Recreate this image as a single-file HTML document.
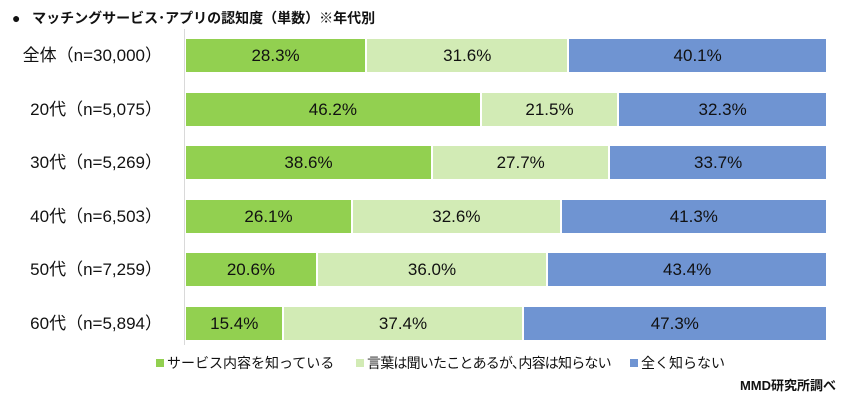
<!DOCTYPE html><html><head><meta charset="utf-8"><style>
body{margin:0;width:848px;height:400px;background:#fff;font-family:"Liberation Sans","Noto Sans CJK JP",sans-serif;position:relative;overflow:hidden;color:#111}
.t{position:absolute;left:12px;top:8px;font-size:14px;font-weight:bold;white-space:nowrap}
.ax{position:absolute;left:184px;top:29px;width:1px;height:316px;background:#d9d9d9}
.lab{position:absolute;right:686px;font-size:17px;white-space:nowrap;line-height:33px}
.bar{position:absolute;left:186px;width:640px;height:33px;display:flex}
.bar div{height:33px;line-height:33px;text-align:center;font-size:17px;box-sizing:border-box;border-right:2px solid #fff}
.bar div:last-child{border-right:none}
.g{background:#92d050}.l{background:#d2ebb5}.b{background:#6f94d2}
.lg{position:absolute;top:353px;font-size:14px;white-space:nowrap}
.lg i{display:inline-block;width:8px;height:8px;margin-right:3px;vertical-align:1px}
.src{position:absolute;right:12px;top:375px;font-size:13px;font-weight:bold}
</style></head><body>
<div class="t">●&nbsp;&nbsp;&nbsp;マッチングサービス･アプリの認知度（単数）※年代別</div>
<div class="ax"></div>
<div class="lab" style="top:39px">全体（n=30,000）</div>
<div class="bar" style="top:39px"><div class="g" style="width:28.3%">28.3%</div><div class="l" style="width:31.6%">31.6%</div><div class="b" style="width:40.1%">40.1%</div></div>
<div class="lab" style="top:93px">20代（n=5,075）</div>
<div class="bar" style="top:93px"><div class="g" style="width:46.2%">46.2%</div><div class="l" style="width:21.5%">21.5%</div><div class="b" style="width:32.3%">32.3%</div></div>
<div class="lab" style="top:146px">30代（n=5,269）</div>
<div class="bar" style="top:146px"><div class="g" style="width:38.6%">38.6%</div><div class="l" style="width:27.7%">27.7%</div><div class="b" style="width:33.7%">33.7%</div></div>
<div class="lab" style="top:200px">40代（n=6,503）</div>
<div class="bar" style="top:200px"><div class="g" style="width:26.1%">26.1%</div><div class="l" style="width:32.6%">32.6%</div><div class="b" style="width:41.3%">41.3%</div></div>
<div class="lab" style="top:253px">50代（n=7,259）</div>
<div class="bar" style="top:253px"><div class="g" style="width:20.6%">20.6%</div><div class="l" style="width:36.0%">36.0%</div><div class="b" style="width:43.4%">43.4%</div></div>
<div class="lab" style="top:307px">60代（n=5,894）</div>
<div class="bar" style="top:307px"><div class="g" style="width:15.4%">15.4%</div><div class="l" style="width:37.4%">37.4%</div><div class="b" style="width:47.3%">47.3%</div></div>
<div class="lg" style="left:156px"><i class="g"></i>サービス内容を知っている</div>
<div class="lg" style="left:356px;letter-spacing:-0.8px"><i class="l"></i>言葉は聞いたことあるが､内容は知らない</div>
<div class="lg" style="left:630px"><i class="b"></i>全く知らない</div>
<div class="src">MMD研究所調べ</div>
</body></html>
